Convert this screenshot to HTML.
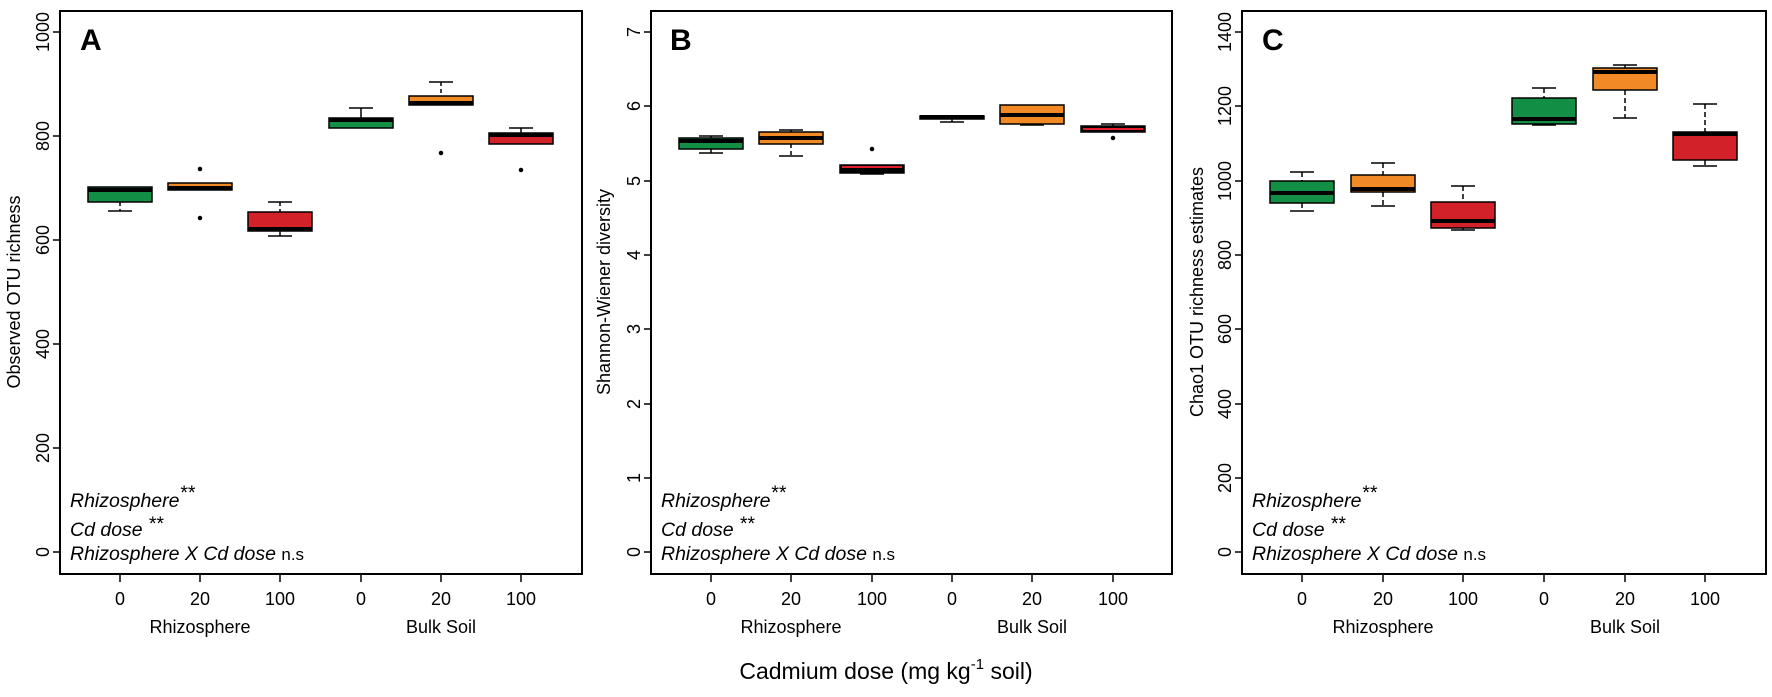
<!DOCTYPE html>
<html><head><meta charset="utf-8"><style>
html,body{margin:0;padding:0;background:#fff;}
svg{display:block;font-family:"Liberation Sans",Arial,sans-serif;}
</style></head><body>
<svg width="1772" height="697" viewBox="0 0 1772 697" xmlns="http://www.w3.org/2000/svg">
<g id="A">
<rect x="60" y="11" width="522" height="563" fill="none" stroke="#000" stroke-width="2"/>
<g stroke="#000" stroke-width="1.5">
<line x1="53" y1="32" x2="60" y2="32"/><line x1="53" y1="136" x2="60" y2="136"/><line x1="53" y1="240" x2="60" y2="240"/><line x1="53" y1="344" x2="60" y2="344"/><line x1="53" y1="448" x2="60" y2="448"/><line x1="53" y1="552" x2="60" y2="552"/>
<line x1="120" y1="574" x2="120" y2="582"/><line x1="200" y1="574" x2="200" y2="582"/><line x1="280" y1="574" x2="280" y2="582"/><line x1="361" y1="574" x2="361" y2="582"/><line x1="441" y1="574" x2="441" y2="582"/><line x1="521" y1="574" x2="521" y2="582"/>
</g>
<g font-size="18" text-anchor="middle">
<text transform="translate(49,32) rotate(-90)">1000</text><text transform="translate(49,136) rotate(-90)">800</text><text transform="translate(49,240) rotate(-90)">600</text><text transform="translate(49,344) rotate(-90)">400</text><text transform="translate(49,448) rotate(-90)">200</text><text transform="translate(49,552) rotate(-90)">0</text>
<text x="120" y="605">0</text><text x="200" y="605">20</text><text x="280" y="605">100</text><text x="361" y="605">0</text><text x="441" y="605">20</text><text x="521" y="605">100</text>
<text x="200" y="633">Rhizosphere</text><text x="441" y="633">Bulk Soil</text>
<text transform="translate(20,292) rotate(-90)">Observed OTU richness</text>
</g>
<text x="80" y="50" font-size="30" font-weight="bold">A</text>
<g stroke="#000" stroke-width="1.5" fill="none">
<line x1="120" y1="202" x2="120" y2="211" stroke-dasharray="4,3"/><line x1="108" y1="211" x2="132" y2="211"/>
<circle cx="200" cy="169" r="1.5" fill="#000"/><circle cx="200" cy="218" r="1.5" fill="#000"/>
<line x1="280" y1="202" x2="280" y2="212" stroke-dasharray="4,3"/><line x1="268" y1="202" x2="292" y2="202"/><line x1="280" y1="231" x2="280" y2="236"/><line x1="268" y1="236" x2="292" y2="236"/>
<line x1="361" y1="108" x2="361" y2="118"/><line x1="349" y1="108" x2="373" y2="108"/>
<line x1="441" y1="82" x2="441" y2="96" stroke-dasharray="4,3"/><line x1="429" y1="82" x2="453" y2="82"/><circle cx="441" cy="153" r="1.5" fill="#000"/>
<line x1="521" y1="128" x2="521" y2="133"/><line x1="509" y1="128" x2="533" y2="128"/><circle cx="521" cy="170" r="1.5" fill="#000"/>
</g>
<g stroke="#000" stroke-width="1.5">
<rect x="88" y="187" width="64" height="15" fill="#138e45"/><rect x="168" y="183" width="64" height="7" fill="#f18a24"/><rect x="248" y="212" width="64" height="19" fill="#d22128"/>
<rect x="329" y="118" width="64" height="10" fill="#138e45"/><rect x="409" y="96" width="64" height="9" fill="#f18a24"/><rect x="489" y="133" width="64" height="11" fill="#d22128"/>
</g>
<g stroke="#000" stroke-width="4">
<line x1="88" y1="190" x2="152" y2="190"/><line x1="168" y1="188" x2="232" y2="188"/><line x1="248" y1="229" x2="312" y2="229"/><line x1="329" y1="120" x2="393" y2="120"/><line x1="409" y1="103" x2="473" y2="103"/><line x1="489" y1="135" x2="553" y2="135"/>
</g>
<g font-size="19.5" font-style="italic">
<text x="70" y="507">Rhizosphere<tspan dy="-8">**</tspan></text>
<text x="70" y="536">Cd dose <tspan dy="-6">**</tspan></text>
<text x="70" y="560">Rhizosphere X Cd dose <tspan font-style="normal" font-size="17">n.s</tspan></text>
</g>
</g>

<g id="B">
<rect x="651" y="11" width="521" height="563" fill="none" stroke="#000" stroke-width="2"/>
<g stroke="#000" stroke-width="1.5">
<line x1="644" y1="32" x2="651" y2="32"/><line x1="644" y1="106" x2="651" y2="106"/><line x1="644" y1="181" x2="651" y2="181"/><line x1="644" y1="255" x2="651" y2="255"/><line x1="644" y1="329" x2="651" y2="329"/><line x1="644" y1="404" x2="651" y2="404"/><line x1="644" y1="478" x2="651" y2="478"/><line x1="644" y1="552" x2="651" y2="552"/>
<line x1="711" y1="574" x2="711" y2="582"/><line x1="791" y1="574" x2="791" y2="582"/><line x1="872" y1="574" x2="872" y2="582"/><line x1="952" y1="574" x2="952" y2="582"/><line x1="1032" y1="574" x2="1032" y2="582"/><line x1="1113" y1="574" x2="1113" y2="582"/>
</g>
<g font-size="18" text-anchor="middle">
<text transform="translate(640,32) rotate(-90)">7</text><text transform="translate(640,106) rotate(-90)">6</text><text transform="translate(640,181) rotate(-90)">5</text><text transform="translate(640,255) rotate(-90)">4</text><text transform="translate(640,329) rotate(-90)">3</text><text transform="translate(640,404) rotate(-90)">2</text><text transform="translate(640,478) rotate(-90)">1</text><text transform="translate(640,552) rotate(-90)">0</text>
<text x="711" y="605">0</text><text x="791" y="605">20</text><text x="872" y="605">100</text><text x="952" y="605">0</text><text x="1032" y="605">20</text><text x="1113" y="605">100</text>
<text x="791" y="633">Rhizosphere</text><text x="1032" y="633">Bulk Soil</text>
<text transform="translate(610,292) rotate(-90)">Shannon-Wiener diversity</text>
</g>
<text x="670" y="50" font-size="30" font-weight="bold">B</text>
<g stroke="#000" stroke-width="1.5" fill="none">
<line x1="711" y1="136" x2="711" y2="138"/><line x1="699" y1="136" x2="723" y2="136"/><line x1="711" y1="149" x2="711" y2="153"/><line x1="699" y1="153" x2="723" y2="153"/>
<line x1="791" y1="130" x2="791" y2="132"/><line x1="779" y1="130" x2="803" y2="130"/><line x1="791" y1="144" x2="791" y2="156" stroke-dasharray="4,3"/><line x1="779" y1="156" x2="803" y2="156"/>
<circle cx="872" cy="149" r="1.5" fill="#000"/><line x1="860" y1="174" x2="884" y2="174"/>
<line x1="952" y1="119" x2="952" y2="122"/><line x1="940" y1="122" x2="964" y2="122"/>
<line x1="1032" y1="124" x2="1032" y2="125"/><line x1="1020" y1="125" x2="1044" y2="125"/>
<line x1="1113" y1="124" x2="1113" y2="126"/><line x1="1101" y1="124" x2="1125" y2="124"/><circle cx="1113" cy="138" r="1.5" fill="#000"/>
</g>
<g stroke="#000" stroke-width="1.5">
<rect x="679" y="138" width="64" height="11" fill="#138e45"/><rect x="759" y="132" width="64" height="12" fill="#f18a24"/><rect x="840" y="165" width="64" height="8" fill="#000"/>
<rect x="920" y="116" width="64" height="3" fill="#000"/><rect x="1000" y="105" width="64" height="19" fill="#f18a24"/><rect x="1081" y="126" width="64" height="6" fill="#000"/>
</g>
<g stroke="#000" stroke-width="4">
<line x1="679" y1="141" x2="743" y2="141"/><line x1="759" y1="138" x2="823" y2="138"/><line x1="840" y1="170" x2="904" y2="170"/><line x1="920" y1="117" x2="984" y2="117"/><line x1="1000" y1="115" x2="1064" y2="115"/>
</g>
<line x1="842" y1="167" x2="902" y2="167" stroke="#e21e26" stroke-width="2"/>
<line x1="1083" y1="129" x2="1143" y2="129" stroke="#e21e26" stroke-width="2"/>
<g font-size="19.5" font-style="italic">
<text x="661" y="507">Rhizosphere<tspan dy="-8">**</tspan></text>
<text x="661" y="536">Cd dose <tspan dy="-6">**</tspan></text>
<text x="661" y="560">Rhizosphere X Cd dose <tspan font-style="normal" font-size="17">n.s</tspan></text>
</g>
</g>

<g id="C">
<rect x="1242" y="11" width="524" height="563" fill="none" stroke="#000" stroke-width="2"/>
<g stroke="#000" stroke-width="1.5">
<line x1="1235" y1="32" x2="1242" y2="32"/><line x1="1235" y1="106" x2="1242" y2="106"/><line x1="1235" y1="181" x2="1242" y2="181"/><line x1="1235" y1="255" x2="1242" y2="255"/><line x1="1235" y1="329" x2="1242" y2="329"/><line x1="1235" y1="404" x2="1242" y2="404"/><line x1="1235" y1="478" x2="1242" y2="478"/><line x1="1235" y1="552" x2="1242" y2="552"/>
<line x1="1302" y1="574" x2="1302" y2="582"/><line x1="1383" y1="574" x2="1383" y2="582"/><line x1="1463" y1="574" x2="1463" y2="582"/><line x1="1544" y1="574" x2="1544" y2="582"/><line x1="1625" y1="574" x2="1625" y2="582"/><line x1="1705" y1="574" x2="1705" y2="582"/>
</g>
<g font-size="18" text-anchor="middle">
<text transform="translate(1231,32) rotate(-90)">1400</text><text transform="translate(1231,106) rotate(-90)">1200</text><text transform="translate(1231,181) rotate(-90)">1000</text><text transform="translate(1231,255) rotate(-90)">800</text><text transform="translate(1231,329) rotate(-90)">600</text><text transform="translate(1231,404) rotate(-90)">400</text><text transform="translate(1231,478) rotate(-90)">200</text><text transform="translate(1231,552) rotate(-90)">0</text>
<text x="1302" y="605">0</text><text x="1383" y="605">20</text><text x="1463" y="605">100</text><text x="1544" y="605">0</text><text x="1625" y="605">20</text><text x="1705" y="605">100</text>
<text x="1383" y="633">Rhizosphere</text><text x="1625" y="633">Bulk Soil</text>
<text transform="translate(1203,292) rotate(-90)">Chao1 OTU richness estimates</text>
</g>
<text x="1262" y="50" font-size="30" font-weight="bold">C</text>
<g stroke="#000" stroke-width="1.5" fill="none" stroke-dasharray="5,3">
<line x1="1302" y1="172" x2="1302" y2="181"/><line x1="1302" y1="203" x2="1302" y2="211"/>
<line x1="1383" y1="163" x2="1383" y2="175"/><line x1="1383" y1="192" x2="1383" y2="206"/>
<line x1="1463" y1="186" x2="1463" y2="202"/><line x1="1463" y1="228" x2="1463" y2="230"/>
<line x1="1544" y1="88" x2="1544" y2="98"/>
<line x1="1625" y1="65" x2="1625" y2="68"/><line x1="1625" y1="90" x2="1625" y2="118"/>
<line x1="1705" y1="104" x2="1705" y2="132"/><line x1="1705" y1="160" x2="1705" y2="166"/>
</g>
<g stroke="#000" stroke-width="1.5">
<line x1="1290" y1="172" x2="1314" y2="172"/><line x1="1290" y1="211" x2="1314" y2="211"/>
<line x1="1371" y1="163" x2="1395" y2="163"/><line x1="1371" y1="206" x2="1395" y2="206"/>
<line x1="1451" y1="186" x2="1475" y2="186"/><line x1="1451" y1="230" x2="1475" y2="230"/>
<line x1="1532" y1="88" x2="1556" y2="88"/><line x1="1532" y1="125" x2="1556" y2="125"/>
<line x1="1613" y1="65" x2="1637" y2="65"/><line x1="1613" y1="118" x2="1637" y2="118"/>
<line x1="1693" y1="104" x2="1717" y2="104"/><line x1="1693" y1="166" x2="1717" y2="166"/>
<rect x="1270" y="181" width="64" height="22" fill="#138e45"/><rect x="1351" y="175" width="64" height="17" fill="#f18a24"/><rect x="1431" y="202" width="64" height="26" fill="#d22128"/>
<rect x="1512" y="98" width="64" height="26" fill="#138e45"/><rect x="1593" y="68" width="64" height="22" fill="#f18a24"/><rect x="1673" y="132" width="64" height="28" fill="#d22128"/>
</g>
<g stroke="#000" stroke-width="4">
<line x1="1270" y1="193" x2="1334" y2="193"/><line x1="1351" y1="189" x2="1415" y2="189"/><line x1="1431" y1="221" x2="1495" y2="221"/><line x1="1512" y1="119" x2="1576" y2="119"/><line x1="1593" y1="72" x2="1657" y2="72"/><line x1="1673" y1="134" x2="1737" y2="134"/>
</g>
<g font-size="19.5" font-style="italic">
<text x="1252" y="507">Rhizosphere<tspan dy="-8">**</tspan></text>
<text x="1252" y="536">Cd dose <tspan dy="-6">**</tspan></text>
<text x="1252" y="560">Rhizosphere X Cd dose <tspan font-style="normal" font-size="17">n.s</tspan></text>
</g>
</g>

<text x="886" y="679" font-size="23" text-anchor="middle">Cadmium dose (mg kg<tspan dy="-10" font-size="15">-1</tspan><tspan dy="10"> soil)</tspan></text>
</svg>
</body></html>
